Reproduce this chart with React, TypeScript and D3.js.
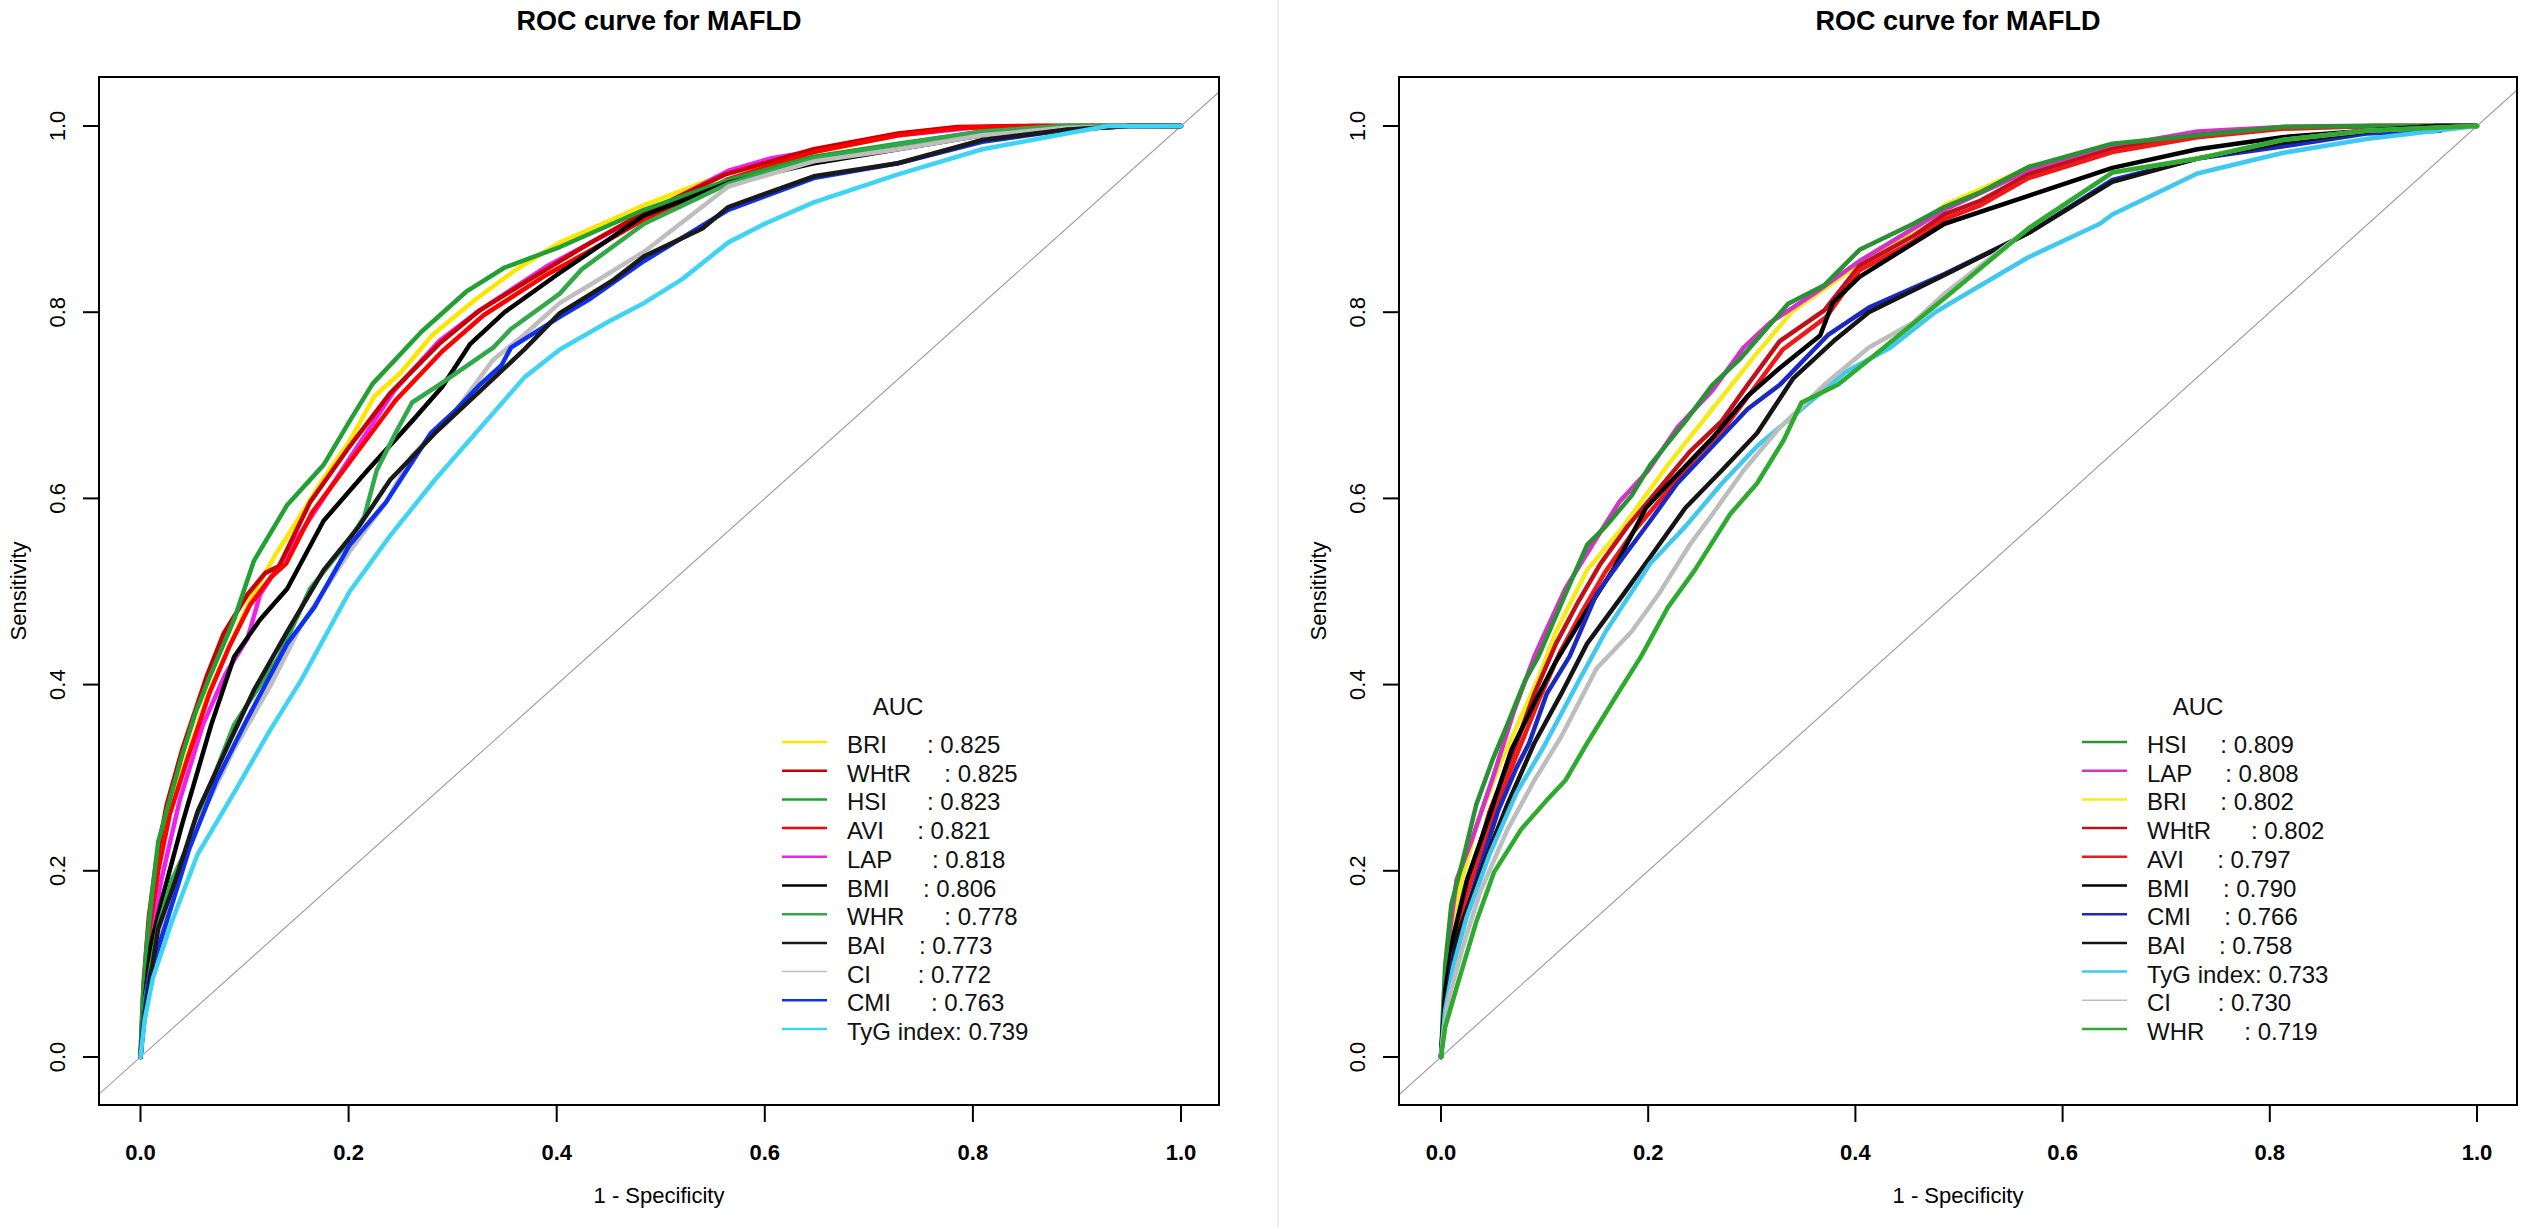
import React from "react";
import * as d3 from "d3";

type Pt = [number, number];

// ---------------- Left panel data (1 - specificity, sensitivity) ----------------
const leftHSI: Pt[] = [[0,0],[0.002,0.06],[0.006,0.12],[0.010,0.164],[0.017,0.231],[0.030,0.284],[0.040,0.324],[0.053,0.370],[0.066,0.407],[0.090,0.470],[0.109,0.533],[0.141,0.593],[0.176,0.636],[0.201,0.683],[0.223,0.723],[0.270,0.779],[0.313,0.822],[0.350,0.848],[0.403,0.870],[0.484,0.910],[0.565,0.942],[0.647,0.967],[0.728,0.981],[0.809,0.994],[0.890,1.0],[1,1]];
const leftBRI: Pt[] = [[0,0],[0.003,0.07],[0.008,0.13],[0.014,0.19],[0.022,0.24],[0.035,0.29],[0.050,0.34],[0.065,0.39],[0.085,0.44],[0.105,0.49],[0.130,0.54],[0.150,0.575],[0.175,0.62],[0.200,0.66],[0.225,0.71],[0.250,0.735],[0.280,0.775],[0.320,0.812],[0.360,0.845],[0.403,0.875],[0.450,0.898],[0.484,0.915],[0.565,0.95],[0.647,0.972],[0.728,0.99],[0.785,0.998],[0.85,1],[1,1]];
const leftWHtR: Pt[] = [[0,0],[0.003,0.08],[0.008,0.15],[0.015,0.21],[0.025,0.27],[0.040,0.33],[0.064,0.41],[0.080,0.455],[0.103,0.497],[0.120,0.52],[0.133,0.527],[0.163,0.596],[0.201,0.656],[0.240,0.713],[0.287,0.766],[0.326,0.802],[0.390,0.846],[0.433,0.875],[0.476,0.902],[0.519,0.925],[0.562,0.948],[0.647,0.975],[0.728,0.992],[0.785,0.999],[0.85,1],[1,1]];
const leftAVI: Pt[] = [[0,0],[0.004,0.08],[0.009,0.14],[0.017,0.2],[0.028,0.26],[0.045,0.32],[0.066,0.39],[0.085,0.44],[0.105,0.485],[0.125,0.515],[0.140,0.53],[0.165,0.585],[0.205,0.645],[0.245,0.705],[0.290,0.758],[0.330,0.797],[0.390,0.84],[0.435,0.868],[0.480,0.897],[0.525,0.92],[0.565,0.943],[0.647,0.972],[0.728,0.99],[0.79,0.998],[0.86,1],[1,1]];
const leftLAP: Pt[] = [[0,0],[0.004,0.07],[0.010,0.13],[0.020,0.19],[0.038,0.277],[0.060,0.357],[0.081,0.41],[0.103,0.45],[0.115,0.497],[0.154,0.563],[0.201,0.643],[0.244,0.716],[0.287,0.769],[0.326,0.802],[0.390,0.849],[0.450,0.885],[0.519,0.925],[0.565,0.952],[0.605,0.965],[0.647,0.973],[0.728,0.99],[0.80,0.998],[0.86,1],[1,1]];
const leftBMI: Pt[] = [[0,0],[0.004,0.06],[0.010,0.12],[0.021,0.171],[0.040,0.25],[0.068,0.357],[0.090,0.43],[0.115,0.47],[0.141,0.503],[0.176,0.576],[0.218,0.63],[0.261,0.683],[0.290,0.72],[0.317,0.766],[0.350,0.8],[0.400,0.84],[0.484,0.904],[0.565,0.939],[0.647,0.96],[0.728,0.975],[0.809,0.99],[0.890,0.996],[0.95,1],[1,1]];
const leftWHR: Pt[] = [[0,0],[0.004,0.06],[0.017,0.14],[0.030,0.19],[0.047,0.23],[0.070,0.3],[0.090,0.357],[0.133,0.43],[0.163,0.503],[0.197,0.55],[0.215,0.58],[0.227,0.63],[0.245,0.67],[0.261,0.703],[0.287,0.722],[0.339,0.762],[0.356,0.782],[0.403,0.82],[0.424,0.846],[0.484,0.895],[0.565,0.938],[0.647,0.965],[0.728,0.98],[0.809,0.994],[0.89,1],[1,1]];
const leftBAI: Pt[] = [[0,0],[0.004,0.045],[0.017,0.138],[0.034,0.191],[0.055,0.264],[0.085,0.337],[0.109,0.394],[0.141,0.457],[0.176,0.523],[0.210,0.57],[0.240,0.62],[0.283,0.67],[0.326,0.715],[0.369,0.76],[0.403,0.799],[0.455,0.835],[0.484,0.86],[0.540,0.89],[0.565,0.913],[0.647,0.946],[0.728,0.96],[0.809,0.985],[0.89,0.996],[0.95,1],[1,1]];
const leftCI: Pt[] = [[0,0],[0.005,0.05],[0.012,0.098],[0.030,0.178],[0.055,0.251],[0.090,0.331],[0.124,0.397],[0.154,0.463],[0.201,0.543],[0.236,0.596],[0.261,0.646],[0.304,0.696],[0.339,0.749],[0.369,0.776],[0.403,0.81],[0.433,0.83],[0.484,0.865],[0.565,0.935],[0.647,0.962],[0.728,0.975],[0.809,0.99],[0.89,0.998],[1,1]];
const leftCMI: Pt[] = [[0,0],[0.003,0.04],[0.008,0.085],[0.025,0.145],[0.047,0.224],[0.073,0.297],[0.103,0.364],[0.141,0.444],[0.167,0.483],[0.201,0.55],[0.236,0.596],[0.279,0.67],[0.304,0.696],[0.326,0.722],[0.347,0.743],[0.356,0.762],[0.403,0.795],[0.433,0.815],[0.484,0.855],[0.565,0.91],[0.647,0.944],[0.728,0.96],[0.809,0.983],[0.89,0.996],[0.95,1],[1,1]];
const leftTyG: Pt[] = [[0,0],[0.004,0.04],[0.012,0.085],[0.030,0.145],[0.055,0.218],[0.090,0.284],[0.124,0.35],[0.154,0.404],[0.201,0.50],[0.240,0.56],[0.283,0.62],[0.326,0.675],[0.369,0.73],[0.403,0.76],[0.450,0.79],[0.484,0.81],[0.520,0.835],[0.565,0.875],[0.600,0.895],[0.647,0.918],[0.728,0.948],[0.809,0.975],[0.890,0.992],[0.93,1],[1,1]];

// ---------------- Right panel data ----------------
const rightHSI: Pt[] = [[0,0],[0.002,0.05],[0.004,0.098],[0.010,0.164],[0.021,0.211],[0.034,0.271],[0.050,0.32],[0.064,0.357],[0.081,0.404],[0.094,0.43],[0.120,0.497],[0.141,0.55],[0.159,0.57],[0.184,0.603],[0.202,0.636],[0.236,0.683],[0.262,0.722],[0.288,0.749],[0.335,0.809],[0.370,0.829],[0.404,0.867],[0.456,0.895],[0.486,0.913],[0.521,0.929],[0.567,0.956],[0.648,0.981],[0.73,0.99],[0.812,0.999],[0.893,1],[1,1]];
const rightLAP: Pt[] = [[0,0],[0.003,0.06],[0.008,0.13],[0.015,0.19],[0.029,0.231],[0.050,0.3],[0.070,0.37],[0.090,0.43],[0.098,0.45],[0.120,0.503],[0.146,0.55],[0.172,0.596],[0.200,0.63],[0.228,0.676],[0.262,0.716],[0.292,0.762],[0.318,0.789],[0.360,0.82],[0.404,0.855],[0.486,0.91],[0.567,0.952],[0.648,0.978],[0.73,0.994],[0.812,0.999],[0.87,1],[1,1]];
const rightBRI: Pt[] = [[0,0],[0.004,0.07],[0.010,0.13],[0.020,0.19],[0.035,0.25],[0.055,0.31],[0.075,0.36],[0.095,0.41],[0.111,0.457],[0.141,0.523],[0.176,0.57],[0.219,0.636],[0.262,0.696],[0.305,0.756],[0.340,0.802],[0.370,0.825],[0.404,0.852],[0.447,0.88],[0.486,0.915],[0.567,0.955],[0.648,0.98],[0.73,0.99],[0.812,0.999],[0.893,1],[1,1]];
const rightWHtR: Pt[] = [[0,0],[0.004,0.07],[0.010,0.12],[0.021,0.164],[0.047,0.264],[0.073,0.337],[0.090,0.39],[0.111,0.444],[0.133,0.49],[0.154,0.53],[0.180,0.57],[0.210,0.61],[0.240,0.65],[0.271,0.683],[0.296,0.722],[0.327,0.769],[0.370,0.802],[0.404,0.85],[0.456,0.882],[0.486,0.905],[0.521,0.92],[0.567,0.948],[0.648,0.975],[0.73,0.99],[0.812,0.998],[0.9,1],[1,1]];
const rightAVI: Pt[] = [[0,0],[0.004,0.06],[0.012,0.12],[0.025,0.175],[0.050,0.26],[0.075,0.33],[0.095,0.385],[0.115,0.435],[0.137,0.48],[0.158,0.52],[0.185,0.563],[0.215,0.603],[0.245,0.643],[0.275,0.678],[0.300,0.715],[0.330,0.76],[0.372,0.795],[0.404,0.845],[0.456,0.876],[0.486,0.9],[0.521,0.915],[0.567,0.944],[0.648,0.972],[0.73,0.988],[0.812,0.997],[0.9,1],[1,1]];
const rightBMI: Pt[] = [[0,0],[0.004,0.07],[0.012,0.13],[0.025,0.19],[0.047,0.26],[0.068,0.33],[0.090,0.38],[0.111,0.425],[0.141,0.48],[0.167,0.525],[0.198,0.59],[0.219,0.615],[0.262,0.665],[0.296,0.71],[0.327,0.74],[0.366,0.775],[0.378,0.81],[0.404,0.838],[0.486,0.895],[0.567,0.925],[0.648,0.955],[0.73,0.975],[0.812,0.988],[0.893,0.995],[0.96,1],[1,1]];
const rightCMI: Pt[] = [[0,0],[0.004,0.05],[0.012,0.111],[0.034,0.191],[0.055,0.264],[0.073,0.311],[0.085,0.337],[0.102,0.39],[0.124,0.43],[0.150,0.497],[0.176,0.537],[0.202,0.576],[0.228,0.616],[0.262,0.656],[0.296,0.696],[0.327,0.722],[0.374,0.776],[0.413,0.805],[0.486,0.841],[0.567,0.885],[0.648,0.942],[0.73,0.965],[0.812,0.978],[0.893,0.992],[0.965,0.995]];
const rightBAI: Pt[] = [[0,0],[0.004,0.05],[0.016,0.131],[0.038,0.198],[0.064,0.271],[0.090,0.337],[0.116,0.39],[0.141,0.444],[0.176,0.497],[0.202,0.537],[0.236,0.59],[0.271,0.63],[0.305,0.67],[0.340,0.729],[0.379,0.769],[0.413,0.8],[0.486,0.84],[0.567,0.885],[0.648,0.94],[0.73,0.965],[0.812,0.982],[0.893,0.994],[0.96,1],[1,1]];
const rightTyG: Pt[] = [[0,0],[0.004,0.05],[0.012,0.098],[0.025,0.151],[0.047,0.218],[0.073,0.284],[0.098,0.331],[0.133,0.404],[0.159,0.457],[0.202,0.53],[0.236,0.57],[0.271,0.616],[0.305,0.656],[0.348,0.696],[0.391,0.736],[0.434,0.762],[0.477,0.8],[0.521,0.829],[0.567,0.859],[0.636,0.895],[0.648,0.905],[0.73,0.949],[0.812,0.971],[0.893,0.986],[0.96,0.995],[1,1]];
const rightCI: Pt[] = [[0,0],[0.003,0.03],[0.008,0.065],[0.021,0.118],[0.038,0.178],[0.064,0.244],[0.090,0.297],[0.116,0.344],[0.150,0.417],[0.184,0.457],[0.210,0.497],[0.240,0.55],[0.262,0.583],[0.292,0.63],[0.327,0.676],[0.370,0.722],[0.413,0.762],[0.456,0.789],[0.486,0.82],[0.567,0.89],[0.648,0.95],[0.73,0.965],[0.812,0.985],[0.893,0.995],[1,1]];
const rightWHR: Pt[] = [[0,0],[0.004,0.032],[0.016,0.078],[0.034,0.145],[0.051,0.198],[0.077,0.244],[0.103,0.277],[0.120,0.297],[0.141,0.337],[0.167,0.384],[0.193,0.43],[0.219,0.483],[0.245,0.523],[0.279,0.583],[0.305,0.616],[0.331,0.663],[0.348,0.703],[0.383,0.722],[0.413,0.749],[0.486,0.815],[0.567,0.89],[0.648,0.95],[0.73,0.965],[0.812,0.985],[0.893,0.995],[1,1]];

// ---------------- Legends / labels ----------------
const titleText = "ROC curve for MAFLD";
const xAxisTitle = "1 - Specificity";
const yAxisTitle = "Sensitivity";
const tickValues = [0, 0.2, 0.4, 0.6, 0.8, 1.0];
const tickLabels = ["0.0", "0.2", "0.4", "0.6", "0.8", "1.0"];
const legendTitle = "AUC";

const leftLegendKeys = ["BRI", "WHtR", "HSI", "AVI", "LAP", "BMI", "WHR", "BAI", "CI", "CMI", "TyG"];
const leftLegendText = [
  "BRI      : 0.825",
  "WHtR     : 0.825",
  "HSI      : 0.823",
  "AVI     : 0.821",
  "LAP      : 0.818",
  "BMI     : 0.806",
  "WHR      : 0.778",
  "BAI     : 0.773",
  "CI       : 0.772",
  "CMI      : 0.763",
  "TyG index: 0.739",
];
const rightLegendKeys = ["HSI", "LAP", "BRI", "WHtR", "AVI", "BMI", "CMI", "BAI", "TyG", "CI", "WHR"];
const rightLegendText = [
  "HSI     : 0.809",
  "LAP     : 0.808",
  "BRI     : 0.802",
  "WHtR      : 0.802",
  "AVI     : 0.797",
  "BMI     : 0.790",
  "CMI     : 0.766",
  "BAI     : 0.758",
  "TyG index: 0.733",
  "CI       : 0.730",
  "WHR      : 0.719",
];

const leftData: Record<string, Pt[]> = {
  BRI: leftBRI, WHtR: leftWHtR, HSI: leftHSI, AVI: leftAVI, LAP: leftLAP, BMI: leftBMI,
  WHR: leftWHR, BAI: leftBAI, CI: leftCI, CMI: leftCMI, TyG: leftTyG,
};
const rightData: Record<string, Pt[]> = {
  HSI: rightHSI, LAP: rightLAP, BRI: rightBRI, WHtR: rightWHtR, AVI: rightAVI, BMI: rightBMI,
  CMI: rightCMI, BAI: rightBAI, TyG: rightTyG, CI: rightCI, WHR: rightWHR,
};

// styles
const leftColors: Record<string, string> = {
  BRI: "#FFE600", WHtR: "#C80000", HSI: "#22A033", AVI: "#FF0000", LAP: "#EE22EE", BMI: "#000000",
  WHR: "#33A84A", BAI: "#1A1A1A", CI: "#BEBEBE", CMI: "#1030F0", TyG: "#40D4F4",
};
const rightColors: Record<string, string> = {
  HSI: "#2A9232", LAP: "#D035C8", BRI: "#F5EB1A", WHtR: "#C0101A", AVI: "#F01818", BMI: "#000000",
  CMI: "#1A2AC0", BAI: "#151515", TyG: "#40C8F0", CI: "#BDBDBD", WHR: "#2EAA2E",
};
const leftDrawOrder = ["BRI", "LAP", "WHtR", "AVI", "HSI", "BMI", "WHR", "CI", "CMI", "BAI", "TyG"];
const rightDrawOrder = ["BRI", "LAP", "WHtR", "AVI", "HSI", "BMI", "CMI", "BAI", "TyG", "CI", "WHR"];

const FONT = "'Liberation Sans', Arial, Helvetica, sans-serif";

type PanelProps = {
  id: string;
  frame: { l: number; r: number; t: number; b: number };
  x0: number;
  x1: number;
  data: Record<string, Pt[]>;
  colors: Record<string, string>;
  order: string[];
  legendKeys: string[];
  legendText: string[];
};

const Y0 = 1057;
const Y1 = 126;

function Panel(p: PanelProps) {
  const { frame } = p;
  const xs = d3.scaleLinear().domain([0, 1]).range([p.x0, p.x1]);
  const ys = d3.scaleLinear().domain([0, 1]).range([Y0, Y1]);
  const line = d3
    .line<Pt>()
    .x((d) => xs(d[0]))
    .y((d) => ys(d[1]));
  const cx = (frame.l + frame.r) / 2;
  const cy = (frame.t + frame.b) / 2;
  const legX = frame.l + 683; // legend line start
  const legTextX = frame.l + 748;
  const legTitleX = frame.l + 799;
  const rowBase = 753;
  const rowStep = 28.7;
  const diag: Pt[] = [[-0.2, -0.2], [1.2, 1.2]];
  return (
    <g>
      <defs>
        <clipPath id={`clip-${p.id}`}>
          <rect x={frame.l} y={frame.t} width={frame.r - frame.l} height={frame.b - frame.t} />
        </clipPath>
      </defs>
      <text x={cx} y={30} textAnchor="middle" fontFamily={FONT} fontWeight="bold" fontSize={27} fill="#000">
        {titleText}
      </text>
      <g clipPath={`url(#clip-${p.id})`}>
        <path d={line(diag) || ""} fill="none" stroke="#9a9a9a" strokeWidth={1.1} />
        {p.order.map((k) => (
          <path
            key={k}
            d={line(p.data[k]) || ""}
            fill="none"
            stroke={p.colors[k]}
            strokeWidth={4.5}
            strokeLinejoin="round"
            strokeLinecap="round"
          />
        ))}
      </g>
      <rect
        x={frame.l}
        y={frame.t}
        width={frame.r - frame.l}
        height={frame.b - frame.t}
        fill="none"
        stroke="#000"
        strokeWidth={2}
      />
      {/* x axis */}
      {tickValues.map((v, i) => (
        <g key={`x${i}`}>
          <line x1={xs(v)} x2={xs(v)} y1={frame.b} y2={frame.b + 17} stroke="#000" strokeWidth={2} />
          <text x={xs(v)} y={1160} textAnchor="middle" fontFamily={FONT} fontWeight="bold" fontSize={22}>
            {tickLabels[i]}
          </text>
        </g>
      ))}
      <text x={cx} y={1203} textAnchor="middle" fontFamily={FONT} fontSize={22}>
        {xAxisTitle}
      </text>
      {/* y axis */}
      {tickValues.map((v, i) => (
        <g key={`y${i}`}>
          <line x1={frame.l - 16} x2={frame.l} y1={ys(v)} y2={ys(v)} stroke="#000" strokeWidth={2} />
          <text
            transform={`translate(${frame.l - 34},${ys(v)}) rotate(-90)`}
            textAnchor="middle"
            fontFamily={FONT}
            fontSize={22}
          >
            {tickLabels[i]}
          </text>
        </g>
      ))}
      <text
        transform={`translate(${frame.l - 73},${cy}) rotate(-90)`}
        textAnchor="middle"
        fontFamily={FONT}
        fontSize={22}
      >
        {yAxisTitle}
      </text>
      {/* legend */}
      <text x={legTitleX} y={715} textAnchor="middle" fontFamily={FONT} fontSize={24} fill="#111">
        {legendTitle}
      </text>
      {p.legendKeys.map((k, i) => (
        <g key={`l${k}`}>
          <line
            x1={legX}
            x2={legX + 45}
            y1={rowBase + i * rowStep - 11}
            y2={rowBase + i * rowStep - 11}
            stroke={p.colors[k]}
            strokeWidth={k === "CI" ? 1.5 : 2.5}
          />
          <text
            x={legTextX}
            y={rowBase + i * rowStep}
            fontFamily={FONT}
            fontSize={24}
            fill="#111"
            xmlSpace="preserve"
            style={{ whiteSpace: "pre" }}
          >
            {p.legendText[i]}
          </text>
        </g>
      ))}
    </g>
  );
}

export default function App() {
  return (
    <svg
      width={2522}
      height={1227}
      viewBox="0 0 2522 1227"
      style={{ position: "absolute", left: 0, top: 0, background: "#fff" }}
    >
      <rect x={0} y={0} width={2522} height={1227} fill="#fff" />
      <line x1={1278} x2={1278} y1={0} y2={1227} stroke="#e8e8e8" strokeWidth={1.5} />
      <Panel
        id="left"
        frame={{ l: 99, r: 1219, t: 77, b: 1105 }}
        x0={140.5}
        x1={1181}
        data={leftData}
        colors={leftColors}
        order={leftDrawOrder}
        legendKeys={leftLegendKeys}
        legendText={leftLegendText}
      />
      <Panel
        id="right"
        frame={{ l: 1399, r: 2517, t: 77, b: 1105 }}
        x0={1441}
        x1={2477}
        data={rightData}
        colors={rightColors}
        order={rightDrawOrder}
        legendKeys={rightLegendKeys}
        legendText={rightLegendText}
      />
    </svg>
  );
}
